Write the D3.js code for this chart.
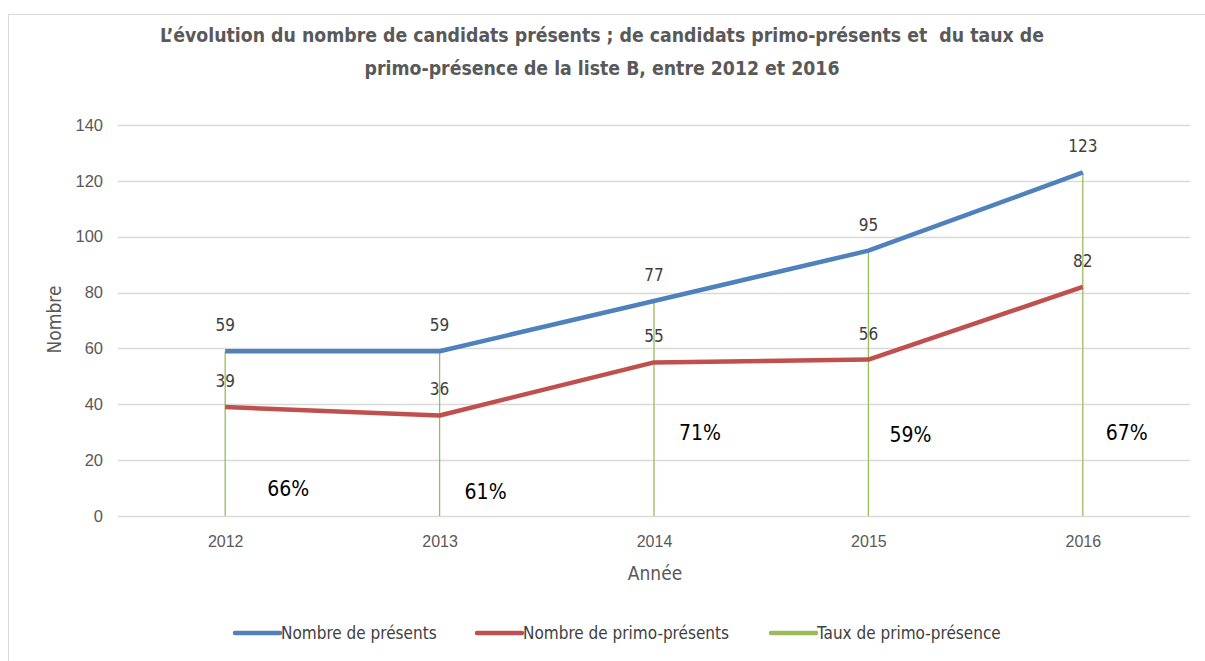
<!DOCTYPE html>
<html>
<head>
<meta charset="utf-8">
<script src="https://cdn.jsdelivr.net/npm/d3@7"></script>
<style>
  body { margin: 0; background: #fff; }
  svg { font-family: "Liberation Sans Narrow", "DejaVu Sans Condensed", "Open Sans", sans-serif; }
</style>
</head>
<body>
<div id="chart"></div>
<script>
// data
var years = ["2012", "2013", "2014", "2015", "2016"];
var presents = [59, 59, 77, 95, 123];
var primoPresents = [39, 36, 55, 56, 82];
var tauxLabels = ["66%", "61%", "71%", "59%", "67%"];
// where the rate labels sit (in axis units) and how far right of the year
var tauxLabelY = [9.6, 8.6, 29.6, 28.9, 29.6];
var tauxLabelDx = [63, 46, 46, 42, 44];
var yTicks = [0, 20, 40, 60, 80, 100, 120, 140];

var width = 1205, height = 661;
var margin = {top: 125, right: 15, bottom: 145, left: 118};
var plotW = width - margin.left - margin.right,
    plotH = height - margin.top - margin.bottom;

var svg = d3.select("#chart")
  .append("svg")
  .attr("width", width)
  .attr("height", height);

// light frame like the screenshot
svg.append("path")
  .attr("d", "M8.5," + height + "V14.5H" + width)
  .attr("fill", "none")
  .attr("stroke", "#d9d9d9");

// title
var title = svg.append("text")
  .attr("text-anchor", "middle")
  .attr("font-weight", "bold")
  .attr("font-size", 19.3)
  .attr("fill", "#595959")
  .style("white-space", "pre");
title.append("tspan").attr("x", 602).attr("y", 42)
  .text("L\u2019évolution du nombre de candidats présents ; de candidats primo-présents et  du taux de");
title.append("tspan").attr("x", 602).attr("y", 75)
  .text("primo-présence de la liste B, entre 2012 et 2016");

var g = svg.append("g")
  .attr("transform", "translate(" + margin.left + "," + margin.top + ")");

var x = d3.scalePoint().domain(years).range([0, plotW]).padding(0.5);
var y = d3.scaleLinear().domain([0, 140]).range([plotH, 0]);

// gridlines
g.selectAll(".grid")
  .data(yTicks)
  .enter().append("line")
  .attr("class", "grid")
  .attr("x1", 0).attr("x2", plotW)
  .attr("y1", function(d) { return Math.round(y(d)) + 0.5; })
  .attr("y2", function(d) { return Math.round(y(d)) + 0.5; })
  .attr("stroke", "#d9d9d9")
  .attr("stroke-width", 1.5);

// y axis labels
var yAxis = g.append("g")
  .call(d3.axisLeft(y).tickValues(yTicks).tickSize(0).tickPadding(15));
yAxis.select(".domain").remove();
yAxis.selectAll("text").attr("font-size", 16.5).attr("fill", "#595959")
  .attr("font-family", "inherit");

// x axis labels
var xAxis = g.append("g")
  .attr("transform", "translate(0," + plotH + ")")
  .call(d3.axisBottom(x).tickSize(0).tickPadding(20));
xAxis.select(".domain").remove();
xAxis.selectAll("text").attr("font-size", 16).attr("fill", "#595959")
  .attr("font-family", "inherit");

// axis titles
svg.append("text")
  .attr("transform", "translate(61," + (margin.top + plotH / 2 - 1) + ")rotate(-90)")
  .attr("text-anchor", "middle")
  .attr("font-size", 19)
  .attr("fill", "#595959")
  .text("Nombre");
svg.append("text")
  .attr("x", 655)
  .attr("y", 580)
  .attr("text-anchor", "middle")
  .attr("font-size", 19)
  .attr("fill", "#595959")
  .text("Année");

// green drop lines (taux de primo-présence)
g.selectAll(".drop")
  .data(years)
  .enter().append("line")
  .attr("class", "drop")
  .attr("x1", function(d) { return x(d); })
  .attr("x2", function(d) { return x(d); })
  .attr("y1", y(0))
  .attr("y2", function(d, i) { return y(presents[i]); })
  .attr("stroke", "#9BBB59")
  .attr("stroke-width", 1.3);

var line = d3.line()
  .x(function(d, i) { return x(years[i]); })
  .y(function(d) { return y(d); });

g.append("path")
  .datum(primoPresents)
  .attr("d", line)
  .attr("fill", "none")
  .attr("stroke", "#C0504D")
  .attr("stroke-width", 4.5)
  .attr("stroke-linejoin", "round");

g.append("path")
  .datum(presents)
  .attr("d", line)
  .attr("fill", "none")
  .attr("stroke", "#4F81BD")
  .attr("stroke-width", 4.5)
  .attr("stroke-linejoin", "round");

// value labels
function addLabels(values) {
  g.selectAll(null)
    .data(values)
    .enter().append("text")
    .attr("x", function(d, i) { return x(years[i]); })
    .attr("y", function(d) { return y(d) - 20; })
    .attr("text-anchor", "middle")
    .attr("font-size", 17)
    .attr("fill", "#404040")
    .text(function(d) { return d; });
}
addLabels(presents);
addLabels(primoPresents);

// rate labels
g.selectAll(".taux")
  .data(tauxLabels)
  .enter().append("text")
  .attr("class", "taux")
  .attr("x", function(d, i) { return x(years[i]) + tauxLabelDx[i]; })
  .attr("y", function(d, i) { return y(tauxLabelY[i]) + 7; })
  .attr("text-anchor", "middle")
  .attr("font-size", 21)
  .attr("fill", "#000")
  .text(function(d) { return d; });

// legend
var legendItems = [
  {name: "Nombre de présents", color: "#4F81BD", x: 235},
  {name: "Nombre de primo-présents", color: "#C0504D", x: 477},
  {name: "Taux de primo-présence", color: "#9BBB59", x: 771}
];
var legend = svg.selectAll(".legend")
  .data(legendItems)
  .enter().append("g")
  .attr("class", "legend")
  .attr("transform", function(d) { return "translate(" + d.x + ",633)"; });
legend.append("line")
  .attr("x1", 0).attr("x2", 45)
  .attr("stroke", function(d) { return d.color; })
  .attr("stroke-width", 4.5)
  .attr("stroke-linecap", "round");
legend.append("text")
  .attr("x", 46)
  .attr("y", 6)
  .attr("font-size", 17)
  .attr("fill", "#404040")
  .text(function(d) { return d.name; });
</script>
</body>
</html>
